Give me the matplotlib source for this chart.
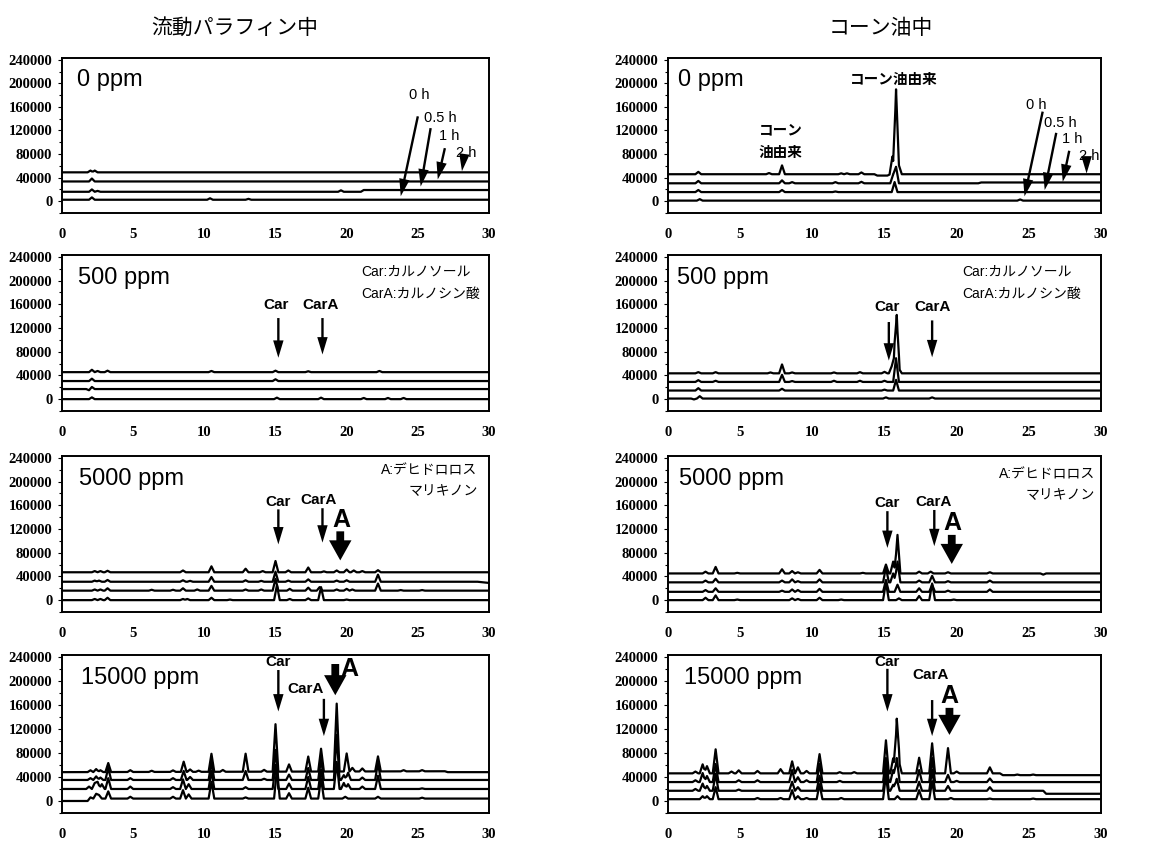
import numpy as np
import matplotlib
matplotlib.use("Agg")
import matplotlib.pyplot as plt

# ---------------- data (retention time [min], peak height) ----------------
times_labels = ["0 h", "0.5 h", "1 h", "2 h"]
x_ticks = [0, 5, 10, 15, 20, 25, 30]
y_ticks = [0, 40000, 80000, 120000, 160000, 200000, 240000]
col_titles = ["流動パラフィン中", "コーン油中"]
conc_labels = ["0 ppm", "500 ppm", "5000 ppm", "15000 ppm"]

# baselines: list of (time, level) per trace [0h, 0.5h, 1h, 2h]
L1_base = [[(0, 2500), (30, 2500)],
           [(0, 16000), (21, 16000), (21.2, 19000), (30, 19000)],
           [(0, 33500), (30, 33500)],
           [(0, 49000), (30, 49000)]]
L1_peaks = [[(2.1, 4000), (10.4, 2500), (13.1, 1500)],
            [(2.1, 4000), (2.5, 1500), (19.6, 2500)],
            [(2.1, 5000)],
            [(2.0, 3000), (2.3, 3000)]]

R1_base = [[(0, 1000), (30, 1000)],
           [(0, 15500), (30, 15500)],
           [(0, 30400), (21.5, 30400), (21.7, 31800), (30, 31800)],
           [(0, 45800), (14.3, 45800), (14.5, 43500), (15.2, 43500), (15.4, 45800), (30, 45800)]]
R1_peaks = [[(2.2, 2500), (24.4, 2000)],
            [(2.1, 3500), (7.9, 3500), (11.6, 1000), (15.7, 17000)],
            [(2.1, 4000), (7.9, 5000), (8.6, 2000), (11.6, 2000), (13.4, 2500), (15.6, 15000), (15.8, 28000)],
            [(2.1, 4000), (7.0, 2000), (7.9, 15000), (12.0, 1500), (12.4, 1500), (13.4, 3000),
             (15.55, 30000), (15.8, 144000), (16.0, 15000)]]

L2_base = [[(0, 0), (30, 0)], [(0, 17000), (30, 17000)],
           [(0, 30500), (30, 30500)], [(0, 45500), (30, 45500)]]
L2_peaks = [[(2.1, 3000), (15.1, 2500), (18.2, 2500), (21.2, 2000), (22.9, 2000), (24.0, 2000)],
            [(1.9, -2000), (2.1, 3500)],
            [(2.1, 4000), (15.0, 3000)],
            [(2.1, 4000), (2.5, 2000), (3.2, 2500), (10.5, 2000), (15.0, 2500), (17.3, 1500), (22.3, 2000)]]

R2_base = [[(0, 1000), (30, 1000)], [(0, 14500), (30, 14500)],
           [(0, 29000), (30, 29000)], [(0, 43500), (30, 43500)]]
R2_peaks = [[(1.8, -1500), (2.2, 4000), (15.1, 2000), (18.3, 2000)],
            [(2.1, 4000), (7.9, 3000), (15.0, 1500), (15.8, 18000)],
            [(2.1, 3000), (3.3, 2000), (7.9, 12000), (8.6, 1500), (11.5, 2000), (13.3, 2000),
             (15.0, 2000), (15.8, 40000)],
            [(2.1, 2000), (3.3, 2000), (7.1, 1500), (7.9, 15000), (8.6, 1500), (11.5, 1500),
             (13.3, 2000), (15.0, 2500), (15.5, 12000), (15.7, 30000), (15.85, 89000), (16.0, 8000)]]

L3_base = [[(0, 0), (30, 0)], [(0, 16000), (30, 16000)],
           [(0, 31000), (29.2, 31000), (30, 29000)], [(0, 47000), (30, 47000)]]
L3_peaks = [[(2.3, 2000), (2.7, 2000), (3.2, 4000), (8.5, 2000), (8.8, 2000), (10.5, 4000),
             (11.8, 1000), (15.1, 25000), (16.0, 2000), (17.3, 3000), (18.2, 22000), (20.0, 1000)],
            [(2.3, 2000), (2.7, 2000), (3.2, 4000), (6.3, 1500), (7.8, 1500), (8.5, 4000), (9.5, 2000),
             (10.5, 8000), (12.9, 2000), (14.0, 2000), (15.0, 20000), (16.0, 3000), (17.3, 5000),
             (18.1, 6000), (19.3, 2000), (20.0, 3000), (20.4, 2000), (22.2, 12000), (23.8, 1000), (25.3, 1000)],
            [(2.3, 2000), (2.6, 2000), (3.2, 3000), (8.5, 2500), (9.0, 1500), (10.5, 8000), (12.9, 2500),
             (14.0, 1500), (15.0, 17000), (15.9, 2000), (17.3, 4000), (19.3, 2000), (20.0, 2500), (22.2, 12000)],
            [(2.3, 2000), (2.7, 2000), (3.2, 2500), (8.5, 3000), (10.5, 10000), (12.9, 6000), (14.1, 2000),
             (15.0, 19000), (15.9, 3000), (17.3, 8000), (18.4, 1500), (19.3, 3000), (20.0, 4500),
             (20.5, 3000), (21.1, 2000), (22.2, 3500)]]

R3_base = [[(0, 0), (30, 0)], [(0, 14000), (30, 14000)],
           [(0, 30000), (30, 30000)], [(0, 45000), (25.8, 45000), (26.0, 43000), (26.2, 45000), (30, 45000)]]
R3_peaks = [[(2.6, 4000), (3.3, 8000), (4.8, 1000), (8.6, 3000), (9.0, 2000), (10.5, 4000), (12.0, 1000),
             (15.1, 30000), (16.0, 3000), (17.4, 7000), (18.3, 28000), (19.8, 1000)],
            [(2.6, 3000), (3.3, 6000), (7.9, 2000), (8.6, 4000), (9.0, 3000), (10.5, 5000), (15.1, 20000),
             (15.9, 12000), (17.4, 6000), (18.3, 12000), (19.4, 2000), (22.3, 4000)],
            [(2.6, 3000), (3.3, 6000), (7.9, 3000), (8.6, 5000), (9.0, 2000), (10.5, 5000), (15.1, 25000),
             (15.6, 15000), (15.9, 35000), (17.4, 3000), (18.3, 11000), (19.4, 2000), (22.3, 3000)],
            [(2.6, 3000), (3.3, 11000), (4.8, 1000), (7.9, 7000), (8.6, 4000), (9.0, 2000), (10.5, 6000),
             (13.5, 1000), (15.1, 15000), (15.6, 20000), (15.9, 65000), (17.4, 3000), (18.2, 3000),
             (19.4, 2000), (22.3, 2000)]]

L4_base = [[(0, 0), (1.8, 0), (2.2, 4000), (30, 4000)], [(0, 20000), (30, 20000)],
           [(0, 35000), (30, 35000)], [(0, 48000), (26.9, 49500), (27.1, 48000), (30, 48000)]]
L4_peaks = [[(2.0, 4000), (2.4, 8000), (2.6, 6000), (3.25, 12000), (4.8, 3000), (7.8, 3000), (8.5, 14000),
             (8.9, 7000), (10.5, 28000), (12.9, 2000), (15.1, 50000), (15.95, 9000), (17.3, 18000),
             (18.2, 33000), (19.9, 3000), (22.2, 3000), (25.3, 1500)],
            [(1.9, 4000), (2.3, 10000), (2.5, 12000), (2.8, 8000), (3.25, 18000), (4.8, 4000), (7.8, 3000),
             (8.5, 16000), (8.9, 8000), (10.5, 30000), (12.9, 3000), (15.0, 40000), (15.95, 9000),
             (17.3, 20000), (18.2, 32000), (19.3, 45000), (19.8, 10000), (20.1, 8000), (21.1, 4000),
             (22.2, 22000), (25.3, 1000)],
            [(2.0, 3000), (2.4, 6000), (2.7, 4000), (3.25, 20000), (4.8, 3000), (7.8, 3000), (8.55, 15000),
             (9.0, 5000), (10.5, 30000), (12.9, 15000), (14.2, 2000), (15.0, 50000), (15.95, 9000),
             (17.3, 20000), (18.2, 35000), (19.3, 75000), (19.8, 8000), (20.1, 12000), (21.1, 4000),
             (22.2, 28000)],
            [(2.0, 3000), (2.4, 5000), (2.7, 3000), (3.25, 15000), (4.8, 3000), (6.3, 2000), (7.8, 2500),
             (8.55, 17000), (9.0, 4000), (9.6, 2000), (10.5, 30000), (11.3, 3000), (12.9, 30000),
             (14.2, 3000), (15.0, 79000), (15.95, 12000), (17.3, 25000), (18.2, 38000), (19.3, 113000),
             (20.0, 30000), (20.4, 6000), (21.1, 5000), (22.2, 25000), (24.0, 2000), (25.3, 2000)]]

R4_base = [[(0, 3000), (30, 3000)],
           [(0, 17000), (26.0, 17000), (26.2, 12000), (30, 12000)],
           [(0, 31500), (30, 31500)],
           [(0, 46000), (23.0, 46000), (23.2, 43000), (30, 43000)]]
R4_peaks = [[(2.4, 5000), (2.7, 5000), (3.3, 20000), (6.2, 2000), (7.8, 2000), (8.6, 15000), (9.0, 5000),
             (9.6, 2000), (10.5, 25000), (12.0, 2000), (15.1, 40000), (15.9, 5000), (17.4, 15000),
             (18.3, 30000), (19.6, 2000), (22.3, 1000), (25.3, 1000)],
            [(1.9, 3000), (2.4, 12000), (2.7, 8000), (3.3, 28000), (4.9, 2000), (8.6, 15000), (9.0, 6000),
             (10.5, 25000), (15.1, 40000), (15.6, 10000), (15.85, 20000), (17.4, 15000), (18.3, 35000),
             (19.4, 8000), (22.3, 6000)],
            [(1.9, 3000), (2.4, 15000), (2.7, 10000), (3.3, 30000), (4.9, 3000), (6.2, 3000), (8.6, 20000),
             (9.0, 8000), (9.6, 3000), (10.5, 30000), (11.9, 2000), (15.1, 40000), (15.6, 20000),
             (15.85, 40000), (17.4, 20000), (18.3, 40000), (19.4, 12000), (20.0, 2000), (22.3, 6000)],
            [(1.9, 3000), (2.4, 15000), (2.7, 12000), (3.3, 40000), (4.4, 3000), (4.9, 5000), (6.2, 4000),
             (7.8, 7000), (8.6, 20000), (9.0, 10000), (9.6, 4000), (10.5, 32000), (11.9, 2000),
             (12.9, 2000), (15.1, 55000), (15.6, 25000), (15.85, 86000), (16.0, 20000), (17.4, 26000),
             (18.3, 50000), (19.4, 42000), (20.0, 3000), (22.3, 10000), (24.2, 1000), (25.3, 1000)]]

panels_data = [[(L1_base, L1_peaks), (R1_base, R1_peaks)],
               [(L2_base, L2_peaks), (R2_base, R2_peaks)],
               [(L3_base, L3_peaks), (R3_base, R3_peaks)],
               [(L4_base, L4_peaks), (R4_base, R4_peaks)]]

# ---------------- drawing ----------------
SANS = ["Liberation Sans", "Noto Sans CJK JP", "DejaVu Sans"]
SERIF = ["Liberation Serif", "DejaVu Serif"]
CJK = ["Noto Sans CJK JP", "DejaVu Sans"]
W = 0.2


def trace(base, peaks):
    bx = [p[0] for p in base]
    by = [p[1] for p in base]
    xs = set(bx) | {0.0, 30.0}
    for t, h in peaks:
        xs |= {t - W, t, t + W}
    xs = np.array(sorted(x for x in xs if 0 <= x <= 30))
    ys = np.interp(xs, bx, by)
    for t, h in peaks:
        ys = ys + h * np.clip(1 - np.abs(xs - t) / W, 0, None)
    return xs, ys


fig = plt.figure(figsize=(11.73, 8.44), dpi=100)
W_px, H_px = 1173, 844
col_x = [(62, 489), (668, 1101)]
row_y = [(58, 213), (255, 411), (456, 612), (655, 813)]
ppm_x = [[1.05, 0.7], [1.15, 0.6], [1.2, 0.76], [1.3, 1.1]]

axes = [[None, None] for _ in range(4)]
for r in range(4):
    for c in range(2):
        x0, x1 = col_x[c]
        y0, y1 = row_y[r]
        ax = fig.add_axes([x0 / W_px, 1 - y1 / H_px, (x1 - x0) / W_px, (y1 - y0) / H_px])
        axes[r][c] = ax
        base, peaks = panels_data[r][c]
        for b, p in zip(base, peaks):
            xs, ys = trace(b, p)
            ax.plot(xs, ys, color="black", lw=1.6, solid_joinstyle="round")
        ax.set_xlim(0, 30)
        ax.set_ylim(-18000, 243000)
        ax.set_xticks(x_ticks)
        ax.set_yticks(y_ticks)
        ax.set_yticks(np.arange(-20000, 243000, 20000), minor=True)
        ax.tick_params(axis="x", length=0, pad=11, labelsize=10.5)
        ax.tick_params(axis="y", which="major", length=3, width=0.8, pad=4, labelsize=10.5)
        ax.tick_params(axis="y", which="minor", length=2, width=0.8)
        for lab in ax.get_xticklabels() + ax.get_yticklabels():
            lab.set_family(SERIF)
            lab.set_fontweight("bold")
        for s in ax.spines.values():
            s.set_linewidth(1.4)
        ax.text(ppm_x[r][c], 205000, conc_labels[r], fontsize=17, family=SANS, ha="left", va="center")


def arrow(ax, start, end, bold=False):
    if bold:
        style = "simple,head_width=0.95,head_length=0.85,tail_width=0.33"
        ms = 17
    else:
        style = "simple,head_width=0.75,head_length=1.25,tail_width=0.17"
        ms = 10
    ax.annotate("", xy=end, xytext=start,
                arrowprops=dict(arrowstyle=style, mutation_scale=ms, facecolor="black",
                                edgecolor="none", lw=0, shrinkA=0, shrinkB=0))


# column titles
fig.text(235 / W_px, 1 - 28 / H_px, col_titles[0], fontsize=15, family=CJK, ha="center", va="center")
fig.text(881 / W_px, 1 - 28 / H_px, col_titles[1], fontsize=15, family=CJK, ha="center", va="center")

# 0 ppm time arrows
hour_layout = [
    [((25.1, 180000), (25.0, 144000), (23.8, 8500)),
     ((26.6, 141000), (25.9, 124000), (25.2, 25000)),
     ((27.2, 110000), (26.9, 90000), (26.4, 37000)),
     ((28.4, 82000), (28.2, 68000), (28.1, 51000))],
    [((25.5, 163000), (25.96, 152000), (24.7, 8300)),
     ((27.2, 132000), (26.9, 116000), (26.1, 19000)),
     ((28.0, 105000), (27.8, 85600), (27.35, 33000)),
     ((29.2, 77000), (29.0, 63000), (29.0, 47000))],
]
for c in range(2):
    ax = axes[0][c]
    for lab, (tp, s, e) in zip(times_labels, hour_layout[c]):
        ax.text(tp[0], tp[1], lab, fontsize=10.5, family=SANS, ha="center", va="center")
        arrow(ax, s, e)

# corn-oil derived labels
axes[0][1].text(7.8, 103000, "コーン\n油由来", fontsize=10.5, family=CJK, fontweight="bold",
                ha="center", va="center", linespacing=1.5)
axes[0][1].text(15.65, 207000, "コーン油由来", fontsize=10.5, family=CJK, fontweight="bold",
                ha="center", va="center")

# Car / CarA / A labels
car_layout = {
    (1, 0): [("Car", (15.07, 159000), (15.2, 136700), (15.2, 69750)),
             ("CarA", (18.2, 159000), (18.3, 136700), (18.3, 75300))],
    (1, 1): [("Car", (15.2, 155000), (15.3, 130000), (15.3, 65000)),
             ("CarA", (18.3, 155000), (18.3, 132700), (18.3, 70600))],
    (2, 0): [("Car", (15.19, 165000), (15.2, 153000), (15.2, 94000)),
             ("CarA", (18.05, 168000), (18.3, 155000), (18.3, 97000))],
    (2, 1): [("Car", (15.2, 163000), (15.2, 150000), (15.2, 88000)),
             ("CarA", (18.4, 165000), (18.45, 152000), (18.45, 91000))],
    (3, 0): [("Car", (15.2, 231000), (15.2, 218000), (15.2, 149000)),
             ("CarA", (17.1, 187000), (18.4, 170000), (18.4, 108000))],
    (3, 1): [("Car", (15.2, 232000), (15.2, 220000), (15.2, 149000)),
             ("CarA", (18.2, 209000), (18.3, 168000), (18.3, 108000))],
}
for (r, c), items in car_layout.items():
    ax = axes[r][c]
    for lab, tp, s, e in items:
        ax.text(tp[0], tp[1], lab, fontsize=11, family=SANS, fontweight="bold", ha="center", va="center")
        arrow(ax, s, e)

a_layout = {
    (2, 0): ((19.6, 135000), (19.55, 116000), (19.55, 67000)),
    (2, 1): ((19.7, 130000), (19.66, 110000), (19.66, 61000)),
    (3, 0): ((20.2, 220000), (19.2, 228000), (19.2, 176000)),
    (3, 1): ((19.5, 175000), (19.5, 155000), (19.5, 110000)),
}
for (r, c), (tp, s, e) in a_layout.items():
    ax = axes[r][c]
    ax.text(tp[0], tp[1], "A", fontsize=18, family=SANS, fontweight="bold", ha="center", va="center")
    arrow(ax, s, e, bold=True)

# legends
for c, x in zip(range(2), [21.0, 20.4]):
    axes[1][c].text(x, 215000, "Car:カルノソール", fontsize=10, family=SANS, ha="left", va="center")
    axes[1][c].text(x, 178000, "CarA:カルノシン酸", fontsize=10, family=SANS, ha="left", va="center")
for c, x, ys in zip(range(2), [29.2, 29.6], [(220000, 184000), (212000, 177000)]):
    axes[2][c].text(x, ys[0], "A:デヒドロロス", fontsize=10, family=SANS, ha="right", va="center")
    axes[2][c].text(x, ys[1], "マリキノン", fontsize=10, family=SANS, ha="right", va="center")

fig.savefig("out.png", dpi=100)
